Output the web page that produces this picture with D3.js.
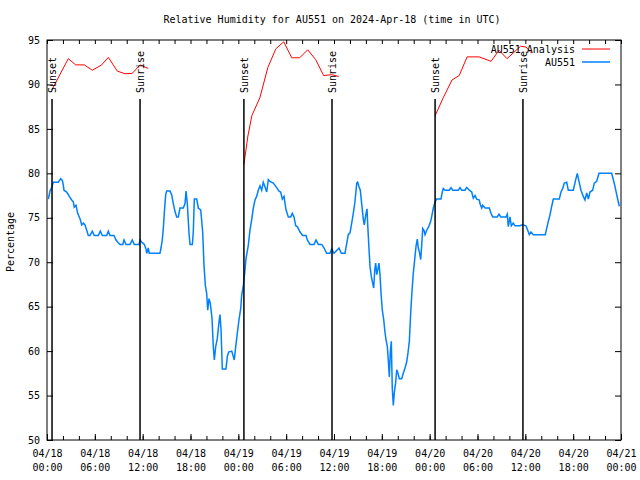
<!DOCTYPE html>
<html>
<head>
<meta charset="utf-8">
<script src="https://cdn.jsdelivr.net/npm/d3@7"></script>
<style>
  html, body { margin: 0; padding: 0; background: #fff; }
  svg { display: block; }
  text { font-family: "DejaVu Sans Mono", "Liberation Mono", monospace; font-size: 10px; fill: #000; }
</style>
</head>
<body>
<svg id="chart" width="640" height="480"></svg>
<script>
// ---- data (hours since 2024-04-18 00:00 UTC) ----
const chartTitle = "Relative Humidity for AU551 on 2024-Apr-18 (time in UTC)";
const yLabel = "Percentage";
const seriesNames = ["AU551 Analysis", "AU551"];

const redHours = [0.62,2.67,3.6,4.68,5.68,6.86,7.69,8.82,9.78,10.7,11.67,12.7,
  18,
  24.7,25.2,25.7,26.7,27.7,28.7,29.7,30.7,31.7,32.7,33.7,34.7,35.7,36.6,
  42,
  48.67,49.7,50.8,51.7,52.7,54.2,55.7,56.7,57.7,59.4,60.1,60.8];
const redValues = [89.4,92.9,92.2,92.2,91.6,92.2,93.05,91.5,91.2,91.25,92.2,91.8,
  null,
  81.0,84.2,86.5,88.5,91.9,94.0,94.8,93.0,93.0,93.9,92.8,91.0,91.1,90.9,
  null,
  86.45,88.5,90.5,91.0,93.1,93.1,92.6,93.85,92.9,94.3,94.2,93.5];

const blueHours = [0.16,0.38,0.59,0.79,1.42,1.72,1.92,2.04,2.13,2.47,2.80,3.10,3.30,3.42,3.64,3.85,4.14,4.35,4.55,4.77,4.98,5.18,5.39,5.68,5.93,6.43,6.69,6.94,7.49,7.69,7.90,8.40,8.66,8.94,9.16,9.50,9.66,9.91,10.41,10.70,10.95,11.54,11.67,11.95,12.21,12.42,12.51,12.71,12.83,
  14.17,14.30,14.46,14.59,14.71,14.89,15.01,15.43,15.64,15.84,16.06,16.27,16.47,16.68,17.10,17.31,17.44,17.60,17.81,17.94,18.23,18.35,18.48,18.78,18.98,19.28,19.53,19.69,19.86,20.03,20.16,20.32,20.48,20.70,20.86,20.99,21.16,21.36,21.58,21.70,21.83,21.99,22.45,22.62,22.79,23.17,23.37,23.49,23.67,23.87,
  24.08,24.30,24.42,24.62,24.80,24.96,25.25,25.46,25.68,25.88,26.09,26.30,26.50,26.72,26.93,27.13,27.34,27.56,27.76,27.97,28.39,28.81,29.10,29.31,29.52,29.73,29.98,30.27,30.57,30.77,30.98,31.20,31.40,31.74,32.07,32.49,32.65,32.99,33.49,33.74,34.03,34.46,34.75,35.08,35.50,35.71,36.00,36.63,36.92,37.38,37.59,37.79,38.01,38.22,38.42,38.63,38.85,38.97,39.14,39.30,39.47,39.68,39.80,39.98,40.14,40.23,40.39,40.52,40.68,40.86,40.98,41.11,41.23,41.36,41.52,41.64,41.77,41.90,42.06,42.24,42.36,42.52,42.69,42.81,42.94,43.06,43.19,43.31,43.44,43.56,43.74,43.87,44.03,44.19,44.49,44.69,44.91,45.12,45.28,45.45,45.62,45.78,45.95,46.12,46.29,46.45,46.57,46.70,46.88,47.00,47.13,47.29,47.42,47.63,47.88,
  48.13,48.29,48.46,48.67,48.88,49.42,49.58,49.71,49.92,50.46,50.68,50.89,51.59,51.80,52.02,52.43,52.65,52.97,53.27,53.47,53.69,53.90,54.23,54.31,54.53,54.65,54.94,55.48,55.69,55.91,56.48,56.70,56.91,57.58,57.74,57.86,58.07,58.24,58.49,58.70,59.33,59.54,59.75,60.08,60.30,60.50,60.71,61.00,62.50,62.68,62.88,63.09,63.31,63.51,64.26,64.47,64.69,64.89,65.19,65.39,66.02,66.32,66.52,66.73,66.98,67.27,67.48,67.70,67.90,68.11,68.45,68.65,68.95,69.24,70.83,71.03,71.25,71.46,71.66,71.79];
const blueValues = [77.1,78.0,78.4,79.0,79.0,79.4,79.2,78.7,78.1,77.9,77.4,77.0,76.8,76.2,76.4,75.5,74.9,74.2,74.4,74.2,73.6,73.0,73.0,73.5,73.0,73.0,73.5,73.0,73.0,73.5,73.0,73.0,72.5,72.2,72.0,72.0,72.5,72.0,72.0,72.5,72.0,72.0,72.5,72.2,72.0,71.5,71.0,71.6,71.0,
  71.0,71.6,72.5,73.8,75.5,77.6,78.0,78.0,77.6,76.6,75.7,75.1,75.1,76.1,76.1,76.6,78.0,76.6,73.3,72.0,72.0,73.4,77.1,77.1,76.1,75.9,73.4,69.7,67.4,66.5,64.6,65.9,65.4,63.7,60.5,59.0,60.5,61.4,63.3,64.1,62.4,58.0,58.0,59.4,59.9,60.0,59.4,59.0,60.5,62.0,
  63.5,64.8,66.3,67.3,68.8,70.4,71.9,73.6,74.8,76.1,77.0,77.4,78.1,78.6,78.1,79.0,78.5,77.9,79.3,79.1,78.9,78.4,78.0,77.9,77.1,77.4,75.9,75.1,75.1,75.5,75.1,74.1,74.0,73.4,73.0,73.0,72.5,72.0,72.0,72.5,72.0,72.0,71.6,71.0,71.0,71.5,71.0,71.6,71.0,71.0,72.1,73.1,73.3,74.4,75.5,76.8,78.9,79.0,78.5,78.1,76.6,74.8,74.2,75.3,76.0,74.2,71.5,69.5,68.4,67.6,67.1,69.1,69.9,68.6,69.3,69.9,68.6,66.5,64.6,63.5,62.4,61.3,60.5,59.0,57.1,59.8,61.1,55.8,53.9,55.3,56.5,57.9,57.5,56.9,56.9,57.5,58.1,58.8,59.8,61.1,64.3,66.7,68.8,70.3,71.8,72.6,71.6,71.2,70.3,71.9,73.8,73.6,73.1,73.6,74.0,
  74.6,75.3,76.1,76.8,77.1,77.1,77.9,78.3,78.1,78.1,78.4,78.1,78.1,78.4,78.1,78.1,78.4,78.1,77.9,77.2,77.5,77.1,77.0,76.6,76.1,76.4,76.1,76.1,75.5,75.1,75.1,75.4,75.1,75.1,75.4,74.0,75.1,74.1,74.4,74.1,74.1,74.2,74.2,74.1,73.6,73.1,73.4,73.1,73.1,73.8,74.6,75.3,76.3,77.1,77.1,77.9,78.3,78.9,79.0,78.1,78.1,79.3,80.0,79.1,78.1,77.4,77.0,77.8,77.1,77.9,78.1,78.9,79.1,80.0,80.0,79.3,78.5,77.6,76.8,76.3];

const sunHours = [0.63, 11.67, 24.7, 35.75, 48.68, 59.7];
const sunLabels = ["Sunset", "Sunrise", "Sunset", "Sunrise", "Sunset", "Sunrise"];

const yTicks = [50,55,60,65,70,75,80,85,90,95];
const xTickHours = [0,6,12,18,24,30,36,42,48,54,60,66,72];
const xTickLabels = [["04/18","00:00"],["04/18","06:00"],["04/18","12:00"],["04/18","18:00"],
  ["04/19","00:00"],["04/19","06:00"],["04/19","12:00"],["04/19","18:00"],
  ["04/20","00:00"],["04/20","06:00"],["04/20","12:00"],["04/20","18:00"],["04/21","00:00"]];

// ---- drawing ----
const t0 = Date.UTC(2024, 3, 18, 0, 0);
const toDate = h => new Date(t0 + h * 3600e3);
const svg = d3.select("#chart");
const L = 47, R = 621, T = 40, B = 440;

const x = d3.scaleUtc().domain([toDate(0), toDate(72)]).range([L, R]);
const y = d3.scaleLinear().domain([50, 95]).range([B, T]);

// title
svg.append("text").attr("x", 332).attr("y", 23).attr("text-anchor", "middle").text(chartTitle);
// y label
svg.append("text").attr("transform", "translate(14,242) rotate(-90)").attr("text-anchor", "middle").text(yLabel);

// minor (2h) ticks top and bottom
const minorHours = d3.range(0, 73, 2).map(toDate);
svg.append("g").attr("transform", `translate(0,${B})`)
  .call(d3.axisBottom(x).tickValues(minorHours).tickSize(-4).tickFormat(""))
  .call(g => g.select(".domain").remove());
svg.append("g").attr("transform", `translate(0,${T})`)
  .call(d3.axisTop(x).tickValues(minorHours).tickSize(-4).tickFormat(""))
  .call(g => g.select(".domain").remove());

// labelled bottom axis
const xAxisG = svg.append("g").attr("transform", `translate(0,${B})`)
  .call(d3.axisBottom(x).tickValues(xTickHours.map(toDate)).tickSize(-6).tickPadding(10).tickFormat(""))
  .call(g => g.select(".domain").remove());
xAxisG.selectAll(".tick").each(function(d, i) {
  const txt = d3.select(this).select("text").attr("y", 17).attr("dy", null)
    .style("font-family", '"DejaVu Sans Mono", monospace').style("font-size", "10px");
  txt.append("tspan").attr("x", 0).attr("dy", 0).text(xTickLabels[i][0]);
  txt.append("tspan").attr("x", 0).attr("dy", 14).text(xTickLabels[i][1]);
});

// left and right y axes
svg.append("g").attr("transform", `translate(${L},0)`)
  .call(d3.axisLeft(y).tickValues(yTicks).tickSize(-6).tickPadding(7))
  .call(g => g.select(".domain").remove())
  .call(g => g.selectAll("text").style("font-family", '"DejaVu Sans Mono", monospace').style("font-size", "10px"));
svg.append("g").attr("transform", `translate(${R},0)`)
  .call(d3.axisRight(y).tickValues(yTicks).tickSize(-6).tickFormat(""))
  .call(g => g.select(".domain").remove());

// frame
svg.append("rect").attr("x", L).attr("y", T).attr("width", R - L).attr("height", B - T)
  .attr("fill", "none").attr("stroke", "#000").attr("stroke-width", 1);

// series
const redData = redHours.map((h, i) => ({ t: toDate(h), v: redValues[i] }));
const blueData = blueHours.map((h, i) => ({ t: toDate(h), v: blueValues[i] }));
const line = d3.line().defined(d => d.v != null).x(d => x(d.t)).y(d => y(d.v));

svg.append("path").datum(blueData).attr("d", line)
  .attr("fill", "none").attr("stroke", "#0080ff").attr("stroke-width", 1.5).attr("stroke-linejoin", "miter");
svg.append("path").datum(redData).attr("d", line)
  .attr("fill", "none").attr("stroke", "#ff0000").attr("stroke-width", 1);

// sunrise / sunset markers
sunHours.forEach((h, i) => {
  const sx = x(toDate(h));
  svg.append("line").attr("x1", sx).attr("x2", sx).attr("y1", 99).attr("y2", B)
    .attr("stroke", "#000").attr("stroke-width", 1.5);
  svg.append("text").attr("transform", `translate(${sx + 4},93) rotate(-90)`)
    .attr("text-anchor", "start").text(sunLabels[i]);
});

// legend
const legY = [49, 62];
const legColors = ["#ff0000", "#0080ff"];
seriesNames.forEach((n, i) => {
  svg.append("text").attr("x", 575).attr("y", legY[i] + 4).attr("text-anchor", "end").text(n);
  svg.append("line").attr("x1", 582).attr("x2", 610).attr("y1", legY[i]).attr("y2", legY[i])
    .attr("stroke", legColors[i]).attr("stroke-width", i === 0 ? 1 : 1.5);
});
</script>
</body>
</html>
